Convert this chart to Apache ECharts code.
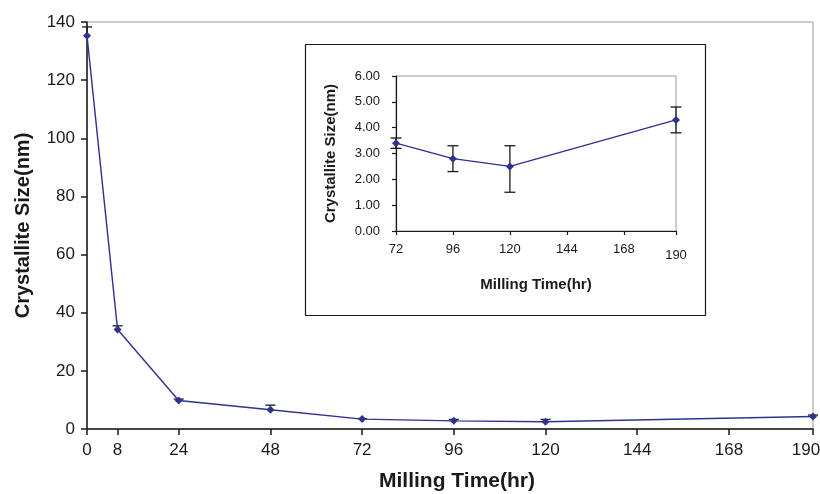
<!DOCTYPE html>
<html>
<head>
<meta charset="utf-8">
<script src="https://cdn.jsdelivr.net/npm/echarts@6/dist/echarts.min.js"></script>
<style>
  html, body { margin: 0; padding: 0; background: #fff; }
  #chart { width: 820px; height: 494px; }
</style>
</head>
<body>
<div id="chart"></div>
<script>
// Crystallite size vs milling time, with a zoomed inset for 72–190 h
const mainTimes = [0, 8, 24, 48, 72, 96, 120, 190];
const mainSize = [135.3, 34.2, 9.8, 6.6, 3.4, 2.8, 2.5, 4.3];
const mainUpper = [138.3, 35.5, 10.3, 8.2, 3.6, 3.3, 3.3, 4.8];
const mainTicks = [0, 8, 24, 48, 72, 96, 120, 144, 168, 190];

const insetTimes = [72, 96, 120, 190];
const insetSize = [3.4, 2.8, 2.5, 4.3];
const insetLower = [3.2, 2.3, 1.5, 3.8];
const insetUpper = [3.6, 3.3, 3.3, 4.8];
const insetTicks = [72, 96, 120, 144, 168, 190];

const FONT = "'Liberation Sans', Arial, sans-serif";
const LINE = '#2E3192';
const INK = '#1a1a1a';

function pairs(xs, ys) { return xs.map((x, i) => [x, ys[i]]); }

// Vertical error bar with a cap at the top, and at the bottom when a lower bound is given
function errorBar(capHalf) {
  return function (params, api) {
    const x = api.value(0);
    const lo = api.coord([x, api.value(1)]);
    const hi = api.coord([x, api.value(2)]);
    const style = { stroke: INK, lineWidth: 1.3 };
    const children = [
      { type: 'line', shape: { x1: lo[0], y1: lo[1], x2: hi[0], y2: hi[1] }, style },
      { type: 'line', shape: { x1: hi[0] - capHalf, y1: hi[1], x2: hi[0] + capHalf, y2: hi[1] }, style }
    ];
    if (api.value(3) === 1) {
      children.push({ type: 'line', shape: { x1: lo[0] - capHalf, y1: lo[1], x2: lo[0] + capHalf, y2: lo[1] }, style });
    }
    return { type: 'group', children };
  };
}

const chart = echarts.init(document.getElementById('chart'), null, { renderer: 'canvas' });

const axisLine = { show: true, lineStyle: { color: INK, width: 1.5 } };
const lastMain = mainTicks[mainTicks.length - 1];
const lastInset = insetTicks[insetTicks.length - 1];

chart.setOption({
  animation: false,
  backgroundColor: '#fff',
  textStyle: { fontFamily: FONT },
  graphic: [{
    type: 'rect',
    shape: { x: 305.5, y: 44.5, width: 400, height: 271 },
    style: { fill: 'none', stroke: INK, lineWidth: 1.2 },
    z: 1
  }],
  grid: [
    { left: 87, right: 7, top: 22, bottom: 65, show: true, borderColor: '#9a9a9a', borderWidth: 1,
      backgroundColor: 'transparent', containLabel: false, outerBoundsMode: 'none' },
    { left: 396, right: 144, top: 76, bottom: 263, show: true, borderColor: '#9a9a9a', borderWidth: 1,
      backgroundColor: 'transparent', containLabel: false, outerBoundsMode: 'none' }
  ],
  xAxis: [
    {
      type: 'value', gridIndex: 0, min: 0, max: 190,
      name: 'Milling Time(hr)', nameLocation: 'middle', nameGap: 42,
      nameTextStyle: { fontSize: 21, fontWeight: 'bold', color: INK, fontFamily: FONT, padding: [0, 0, 0, 14] },
      axisLine,
      splitLine: { show: false },
      axisTick: { show: true, length: 6, customValues: mainTicks, lineStyle: { color: INK, width: 1.5 } },
      axisLabel: {
        customValues: mainTicks, fontSize: 17, color: INK, margin: 13, fontFamily: FONT,
        formatter: v => v === lastMain ? '{e|' + v + '}' : String(v),
        rich: { e: { fontSize: 17, color: INK, fontFamily: FONT, padding: [0, 14, 0, 0] } }
      }
    },
    {
      type: 'value', gridIndex: 1, min: 72, max: 190,
      name: 'Milling Time(hr)', nameLocation: 'middle', nameGap: 46,
      nameTextStyle: { fontSize: 15, fontWeight: 'bold', color: INK, fontFamily: FONT },
      axisLine: { show: true, lineStyle: { color: INK, width: 1.2 } },
      splitLine: { show: false },
      axisTick: { show: true, length: 4, customValues: insetTicks, lineStyle: { color: INK, width: 1.2 } },
      axisLabel: {
        customValues: insetTicks, fontSize: 13, color: INK, margin: 12, fontFamily: FONT,
        formatter: v => v === lastInset ? '{d|' + v + '}' : String(v),
        rich: { d: { fontSize: 13, color: INK, fontFamily: FONT, padding: [6, 0, 0, 0] } }
      }
    }
  ],
  yAxis: [
    {
      type: 'value', gridIndex: 0, min: 0, max: 140, interval: 20,
      name: 'Crystallite Size(nm)', nameLocation: 'middle', nameGap: 54,
      nameTextStyle: { fontSize: 20, fontWeight: 'bold', color: INK, fontFamily: FONT },
      axisLine,
      splitLine: { show: false },
      axisTick: { show: true, length: 6, lineStyle: { color: INK, width: 1.5 } },
      axisLabel: { fontSize: 17, color: INK, margin: 12, fontFamily: FONT }
    },
    {
      type: 'value', gridIndex: 1, min: 0, max: 6, interval: 1,
      name: 'Crystallite Size(nm)', nameLocation: 'middle', nameGap: 58,
      nameTextStyle: { fontSize: 15, fontWeight: 'bold', color: INK, fontFamily: FONT },
      axisLine: { show: true, lineStyle: { color: INK, width: 1.2 } },
      splitLine: { show: false },
      axisTick: { show: true, length: 4, lineStyle: { color: INK, width: 1.2 } },
      axisLabel: { fontSize: 13, color: INK, margin: 16, fontFamily: FONT, formatter: v => v.toFixed(2) }
    }
  ],
  series: [
    {
      type: 'custom', xAxisIndex: 0, yAxisIndex: 0, clip: false, z: 3,
      renderItem: errorBar(5),
      data: mainTimes.map((x, i) => [x, mainSize[i], mainUpper[i], 0]),
      encode: { x: 0, y: [1, 2] }
    },
    {
      type: 'line', xAxisIndex: 0, yAxisIndex: 0, clip: false, z: 4,
      data: pairs(mainTimes, mainSize),
      symbol: 'diamond', symbolSize: 8,
      lineStyle: { color: LINE, width: 1.4 },
      itemStyle: { color: LINE }
    },
    {
      type: 'custom', xAxisIndex: 1, yAxisIndex: 1, clip: false, z: 3,
      renderItem: errorBar(5.5),
      data: insetTimes.map((x, i) => [x, insetLower[i], insetUpper[i], 1]),
      encode: { x: 0, y: [1, 2] }
    },
    {
      type: 'line', xAxisIndex: 1, yAxisIndex: 1, clip: false, z: 4,
      data: pairs(insetTimes, insetSize),
      symbol: 'diamond', symbolSize: 8,
      lineStyle: { color: LINE, width: 1.4 },
      itemStyle: { color: LINE }
    }
  ]
});
</script>
</body>
</html>
